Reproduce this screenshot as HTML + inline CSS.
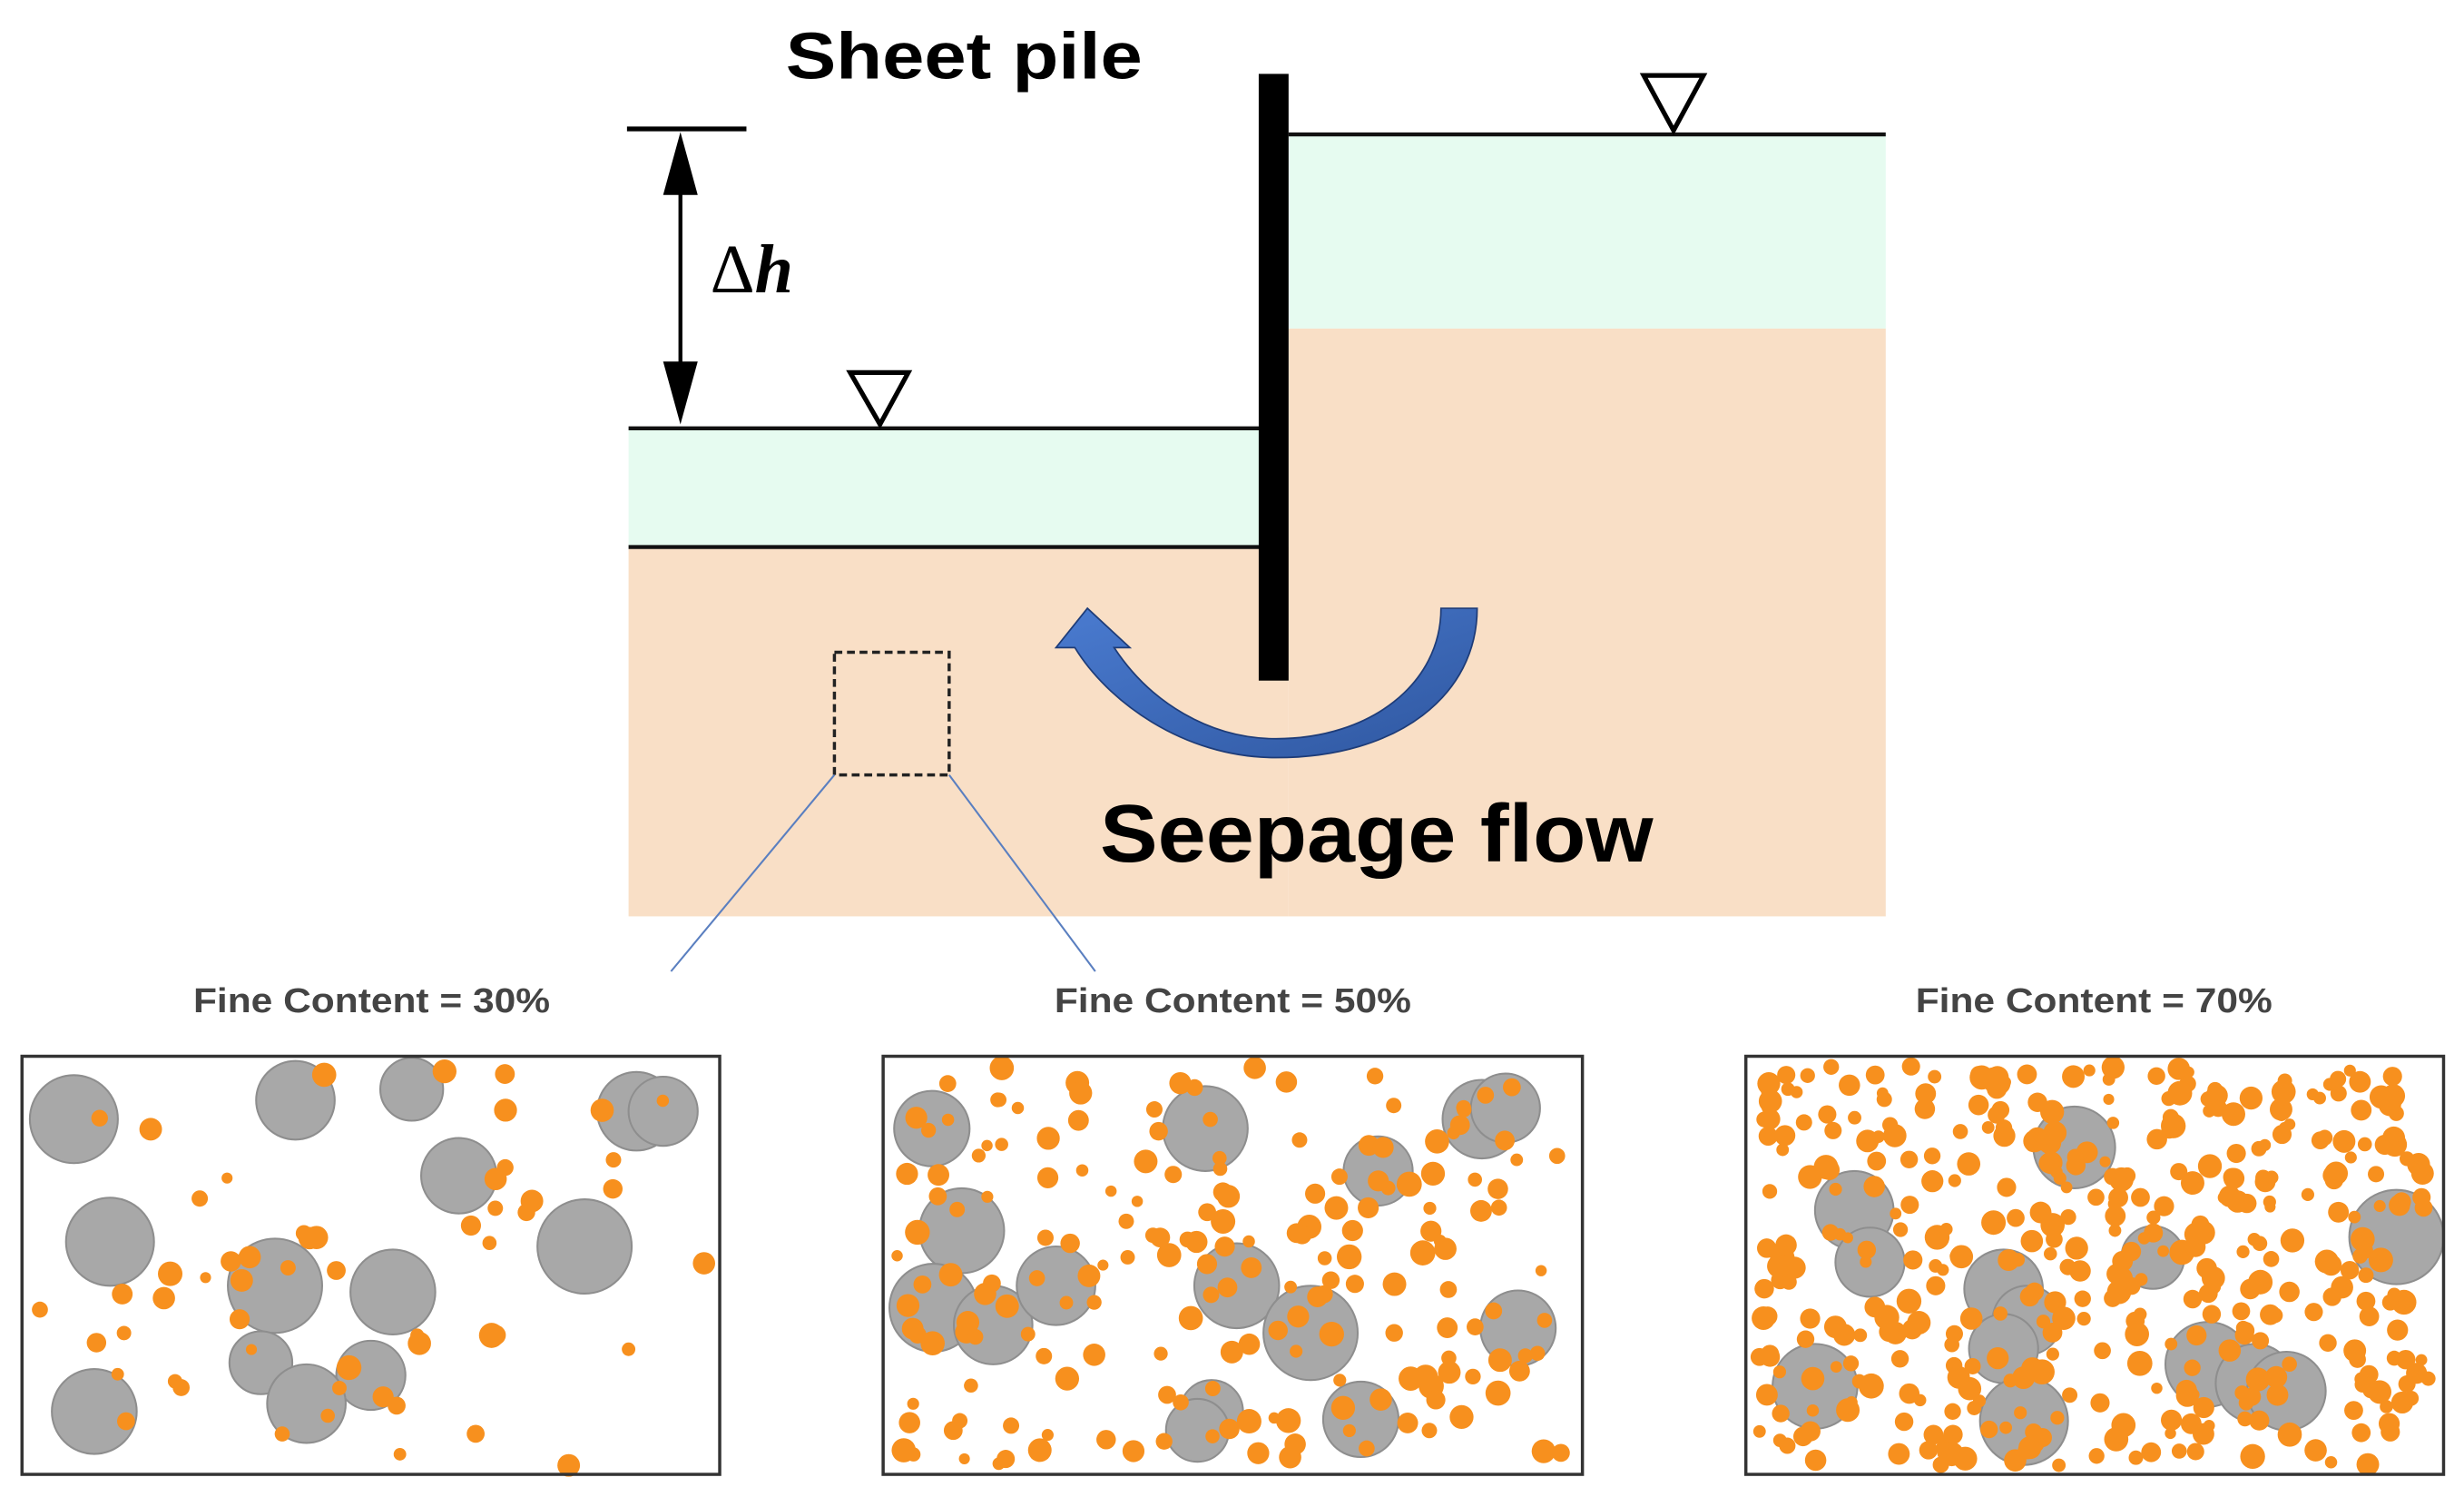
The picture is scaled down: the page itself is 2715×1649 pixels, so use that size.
<!DOCTYPE html>
<html><head><meta charset="utf-8"><style>
html,body{margin:0;padding:0;background:#fff;overflow:hidden}
svg{display:block}
</style></head><body>
<svg id="s" width="2715" height="1649" viewBox="0 0 1568 952.4" preserveAspectRatio="none" xmlns="http://www.w3.org/2000/svg">
<defs>
<linearGradient id="bg" x1="0" y1="0" x2="1" y2="1">
<stop offset="0" stop-color="#4a7bd0"/><stop offset="1" stop-color="#2f57a0"/>
</linearGradient>
</defs>
<rect width="1568" height="952.4" fill="#fff"/>
<rect x="400" y="348" width="420" height="235" fill="#f9dfc6"/>
<rect x="820" y="209" width="380" height="374" fill="#f9dfc6"/>
<rect x="400" y="272" width="402" height="76" fill="#e6fbf0"/>
<rect x="820" y="85" width="380" height="124" fill="#e6fbf0"/>
<line x1="400" y1="272.5" x2="802" y2="272.5" stroke="#111" stroke-width="2.5"/>
<line x1="400" y1="348" x2="802" y2="348" stroke="#111" stroke-width="2.5"/>
<line x1="820" y1="85.5" x2="1200" y2="85.5" stroke="#111" stroke-width="2.5"/>
<rect x="801" y="47" width="19" height="386" fill="#000"/>
<polygon points="1046,48 1084,48 1065,83" fill="#fff" stroke="#000" stroke-width="3"/>
<polygon points="541,237 578,237 560,270" fill="#fff" stroke="#000" stroke-width="3"/>
<line x1="399" y1="82" x2="475" y2="82" stroke="#000" stroke-width="3"/>
<line x1="433" y1="95" x2="433" y2="250" stroke="#000" stroke-width="2.5"/>
<polygon points="433,84 422,124 444,124" fill="#000"/>
<polygon points="433,270 422,230 444,230" fill="#000"/>
<text x="452" y="186" font-family="Liberation Serif, serif" font-size="44" fill="#000">Δ<tspan font-weight="bold" font-style="italic">h</tspan></text>
<text x="500" y="50" textLength="227" lengthAdjust="spacingAndGlyphs" font-family="Liberation Sans, sans-serif" font-weight="bold" font-size="42" fill="#000">Sheet pile</text>
<path d="M917,387 L940,387 C940,442 890,482 812,482 C752,482 704,445 684,412 L672,412 L692,387 L719,412 L709,412 C732,447 770,470 812,470 C872,470 917,435 917,387 Z" fill="url(#bg)" stroke="#1e3c78" stroke-width="1"/>
<text x="700" y="548" textLength="352" lengthAdjust="spacingAndGlyphs" font-family="Liberation Sans, sans-serif" font-weight="bold" font-size="52" fill="#000">Seepage flow</text>
<rect x="531" y="415" width="73" height="78" fill="none" stroke="#222" stroke-width="2" stroke-dasharray="5,3"/>
<line x1="531" y1="493" x2="427" y2="618" stroke="#5a7fc0" stroke-width="1.2"/>
<line x1="604" y1="493" x2="697" y2="618" stroke="#5a7fc0" stroke-width="1.2"/>
<g font-family="Liberation Sans, sans-serif" font-weight="bold" font-size="22" fill="#444">
<text x="123" y="644" textLength="227" lengthAdjust="spacingAndGlyphs">Fine Content = 30%</text>
<text x="671" y="644" textLength="227" lengthAdjust="spacingAndGlyphs">Fine Content = 50%</text>
<text x="1219" y="644" textLength="227" lengthAdjust="spacingAndGlyphs">Fine Content = 70%</text>
</g>
<g fill="#a8a8a8" stroke="#8e8e8e" stroke-width="1.2">
<circle cx="47" cy="712" r="28"/><circle cx="188" cy="700" r="25"/><circle cx="262" cy="693" r="20"/><circle cx="405" cy="707" r="25"/><circle cx="422" cy="707" r="22"/><circle cx="292" cy="748" r="24"/><circle cx="70" cy="790" r="28"/><circle cx="372" cy="793" r="30"/><circle cx="175" cy="818" r="30"/><circle cx="250" cy="822" r="27"/><circle cx="166" cy="867" r="20"/><circle cx="236" cy="875" r="22"/><circle cx="195" cy="893" r="25"/><circle cx="60" cy="898" r="27"/>
<circle cx="593" cy="718" r="24"/><circle cx="767" cy="718" r="27"/><circle cx="943" cy="712" r="25"/><circle cx="958" cy="705" r="22"/><circle cx="877" cy="745" r="22"/><circle cx="612" cy="783" r="27"/><circle cx="787" cy="818" r="27"/><circle cx="594" cy="832" r="28"/><circle cx="632" cy="843" r="25"/><circle cx="672" cy="818" r="25"/><circle cx="834" cy="848" r="30"/><circle cx="966" cy="845" r="24"/><circle cx="771" cy="898" r="20"/><circle cx="762" cy="910" r="20"/><circle cx="866" cy="903" r="24"/>
<circle cx="1320" cy="730" r="26"/><circle cx="1180" cy="770" r="25"/><circle cx="1190" cy="803" r="22"/><circle cx="1370" cy="800" r="20"/><circle cx="1525" cy="787" r="30"/><circle cx="1275" cy="820" r="25"/><circle cx="1290" cy="840" r="22"/><circle cx="1275" cy="858" r="22"/><circle cx="1155" cy="882" r="27"/><circle cx="1288" cy="904" r="28"/><circle cx="1405" cy="868" r="27"/><circle cx="1435" cy="880" r="25"/><circle cx="1455" cy="885" r="25"/>
</g>
<g id="dots" fill="#f7901e"></g>
<g fill="none" stroke="#333" stroke-width="2">
<rect x="14" y="672" width="444" height="266"/>
<rect x="562" y="672" width="445" height="266"/>
<rect x="1111" y="672" width="444" height="266"/>
</g>
</svg>
<script>
(function(){
var seed=12345;function r(){seed=(seed*1103515245+12345)%2147483648;return seed/2147483648;}
var g=document.getElementById('dots'),ns='http://www.w3.org/2000/svg';
var panels=[[14,55],[562,190],[1111,420]];
panels.forEach(function(p){
 for(var i=0;i<p[1];i++){
  var c=document.createElementNS(ns,'circle');
  var rad=3.5+r()*4.5;
  c.setAttribute('cx',(p[0]+8+r()*428).toFixed(1));
  c.setAttribute('cy',(678+r()*255).toFixed(1));
  c.setAttribute('r',rad.toFixed(1));
  g.appendChild(c);
 }
});
})();
</script>
</body></html>
